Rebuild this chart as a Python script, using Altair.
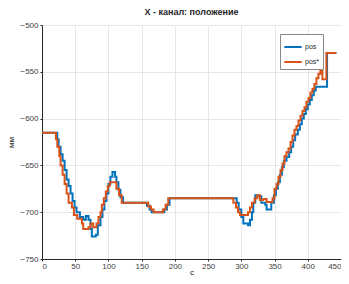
import altair as alt
import pandas as pd

# pos (blue) step points
pos_x = [0, 23, 25, 28, 31, 34, 37, 40, 43, 46, 49, 52, 57, 62, 66, 70, 73, 75, 81, 84, 88, 91, 94, 97, 100, 103, 106, 110, 112, 115, 118, 122, 155, 158, 162, 165, 180, 184, 188, 192, 290, 293, 296, 300, 303, 310, 313, 316, 318, 321, 326, 330, 336, 338, 343, 345, 349, 352, 355, 358, 361, 364, 368, 372, 375, 378, 381, 385, 388, 391, 394, 397, 400, 403, 406, 409, 412, 428, 429, 443]
pos_y = [-615, -622, -630, -638, -645, -655, -665, -672, -680, -688, -695, -700, -705, -708, -704, -708, -718, -726, -724, -714, -705, -697, -688, -680, -670, -662, -657, -662, -668, -676, -684, -690, -690, -693, -697, -700, -700, -697, -692, -685, -685, -690, -697, -705, -712, -714, -708, -700, -690, -682, -683, -690, -692, -697, -697, -690, -682, -675, -668, -660, -652, -645, -641, -636, -630, -623, -617, -612, -606, -600, -595, -590, -585, -580, -575, -570, -566, -566, -530, -530]

# pos* (orange) step points
ref_x = [0, 21, 23, 26, 28, 31, 34, 37, 40, 45, 48, 53, 58, 60, 62, 70, 73, 77, 82, 85, 88, 90, 93, 96, 99, 102, 108, 112, 116, 120, 160, 164, 168, 182, 186, 190, 288, 292, 295, 298, 310, 313, 316, 320, 324, 328, 333, 338, 347, 350, 353, 356, 359, 362, 365, 368, 371, 374, 377, 380, 383, 386, 389, 392, 395, 398, 401, 404, 407, 410, 413, 416, 419, 422, 428, 443]
ref_y = [-615, -622, -630, -640, -650, -660, -670, -680, -690, -695, -703, -707, -707, -712, -718, -716, -712, -716, -712, -705, -700, -692, -685, -678, -672, -668, -668, -675, -682, -690, -694, -697, -700, -697, -692, -685, -690, -695, -700, -703, -700, -695, -690, -685, -682, -687, -686, -689, -685, -675, -670, -662, -655, -648, -640, -636, -632, -625, -618, -612, -608, -602, -597, -592, -588, -582, -578, -572, -568, -563, -557, -552, -549, -558, -530, -530]

series_names = ["pos", "pos*"]
series_colors = ["#0072BD", "#D95319"]

df = pd.concat([
    pd.DataFrame({"t": pos_x, "v": pos_y, "s": series_names[0], "o": 0}),
    pd.DataFrame({"t": ref_x, "v": ref_y, "s": series_names[1], "o": 1}),
])

FONT = "Liberation Sans"

chart = alt.Chart(df).mark_line(interpolate="step-after", strokeWidth=2, clip=True).encode(
    x=alt.X("t:Q", title="с",
            scale=alt.Scale(domain=[0, 450], nice=False, zero=False),
            axis=alt.Axis(values=list(range(0, 451, 50)), grid=True, gridColor="#e6e6e6",
                          domainColor="#262626", tickColor="#262626", tickSize=2,
                          labelFontSize=8, labelColor="#404040", labelFont=FONT,
                          titleFontSize=8, titleFont=FONT, titleFontWeight="normal",
                          titleColor="#262626", titlePadding=-2, labelPadding=1)),
    y=alt.Y("v:Q", title="мм",
            scale=alt.Scale(domain=[-750, -500], nice=False, zero=False),
            axis=alt.Axis(values=list(range(-750, -499, 50)), grid=True, gridColor="#e6e6e6",
                          domainColor="#262626", tickColor="#262626", tickSize=2,
                          labelFontSize=8, labelColor="#404040", labelFont=FONT,
                          titleFontSize=8, titleFont=FONT, titleFontWeight="normal",
                          titleColor="#262626", titlePadding=4, labelPadding=2)),
    color=alt.Color("s:N", scale=alt.Scale(domain=series_names, range=series_colors),
                    legend=alt.Legend(title=None, orient="none", legendX=238, legendY=9,
                                      symbolType="stroke", symbolStrokeWidth=2, symbolSize=300,
                                      labelFontSize=7, labelFont=FONT, labelColor="#262626",
                                      fillColor="white", strokeColor="#888888", padding=3,
                                      rowPadding=1, labelOffset=2)),
    order=alt.Order("o:Q"),
    detail="s:N",
).properties(
    width=299, height=234,
    title=alt.TitleParams("X - канал: положение", fontSize=9, font=FONT, fontWeight="bold",
                          color="#262626", anchor="middle", offset=4),
    autosize=alt.AutoSizeParams(type="none"),
    padding={"left": 34, "top": 17, "right": 0, "bottom": 17},
).configure_view(stroke=None)

chart.save("out.html", embed_options={"renderer": "svg", "actions": False})
